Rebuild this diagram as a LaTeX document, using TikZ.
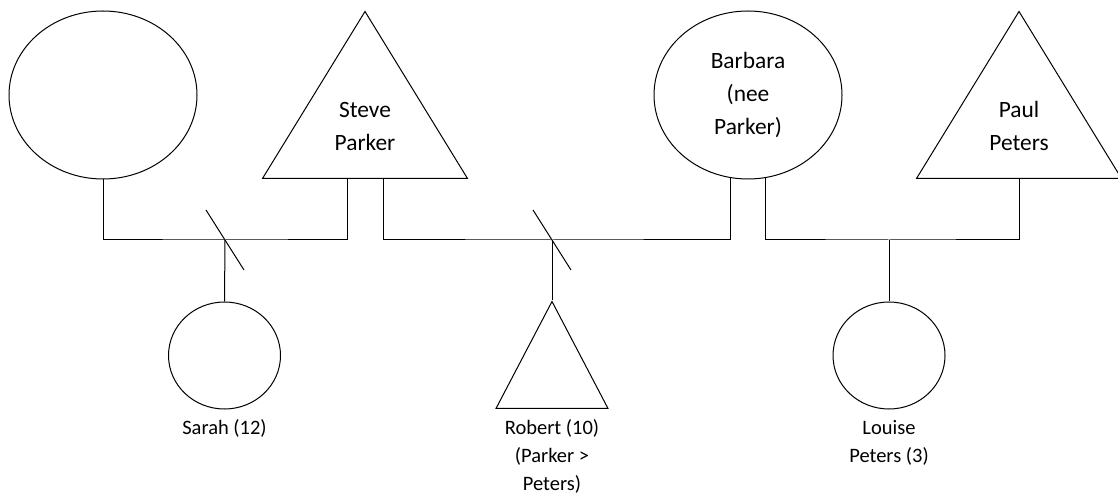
\documentclass[tikz,border=0pt]{standalone}
\usepackage{fontspec}
\setmainfont{Carlito}
\usepackage{tikz}
\usetikzlibrary{shapes.geometric}
\usetikzlibrary{positioning}
\tikzset{every node/.style={inner sep=0pt, outer sep=0.5pt}}
\tikzset{female/.style={ellipse,draw=black,fill=none}}
\tikzset{male/.style={isosceles triangle,isosceles triangle stretches,shape border rotate=90,draw=black,fill=none}}
\newcommand{\adultfont}{\fontsize{23.4}{33}\selectfont}
\newcommand{\childfont}{\fontsize{20.5}{28}\selectfont}

\begin{document}
\begin{tikzpicture}[x=1pt,y=1pt,line width=1pt]
    \useasboundingbox (0,0) rectangle (1118,498);

    \node[female,minimum width=188pt,minimum height=168pt] (Mother) at (103,403) {};

    \node[male,minimum width=205pt,minimum height=167pt,anchor=south] (Steve) at (365,319) {};
    \node[align=center,font=\adultfont] (SteveName) at (365,371.5) {Steve\\Parker};

    \node[female,minimum width=188pt,minimum height=168pt,align=center,font=\adultfont] (Barbara) at (748,403) {Barbara\\(nee\\Parker)};

    \node[male,minimum width=205pt,minimum height=167pt,anchor=south] (Paul) at (1019,319) {};
    \node[align=center,font=\adultfont] (PaulName) at (1019,372.5) {Paul\\Peters};

    \node[female,minimum width=112pt,minimum height=107pt] (Sarah) at (224.5,142.5) {};
    \node[below=10pt of Sarah,align=center,font=\childfont] (SarahName) {Sarah (12)};

    \node[male,minimum width=112pt,minimum height=107pt,anchor=south] (Robert) at (552,89) {};
    \node[below=10pt of Robert,align=center,font=\childfont] (RobertName) {Robert (10)\\(Parker >\\Peters)};

    \node[female,minimum width=112pt,minimum height=107pt] (Louise) at (889,142.5) {};
    \node[below=10pt of Louise,align=center,font=\childfont] (LouiseName) {Louise\\Peters (3)};

    \coordinate (Couple1) at (225,258);
    \coordinate (Couple2) at (552,258);
    \coordinate (Couple3) at (889,258);

    \draw (Mother.south) |- (Couple1) -| ([xshift=-18pt]Steve.south);
    \draw ([shift={(-19,30)}]Couple1) -- ([shift={(19,-30)}]Couple1);
    \draw (Couple1) -- (Sarah.north);

    \draw ([xshift=18pt]Steve.south) |- (Couple2) -| (Barbara.258);
    \draw ([shift={(-19,30)}]Couple2) -- ([shift={(19,-30)}]Couple2);
    \draw (Couple2) -- (Robert.apex);

    \draw (Barbara.282) |- (Couple3) -| (Paul.south);
    \draw (Couple3) -- (Louise.north);

\end{tikzpicture}
\end{document}
